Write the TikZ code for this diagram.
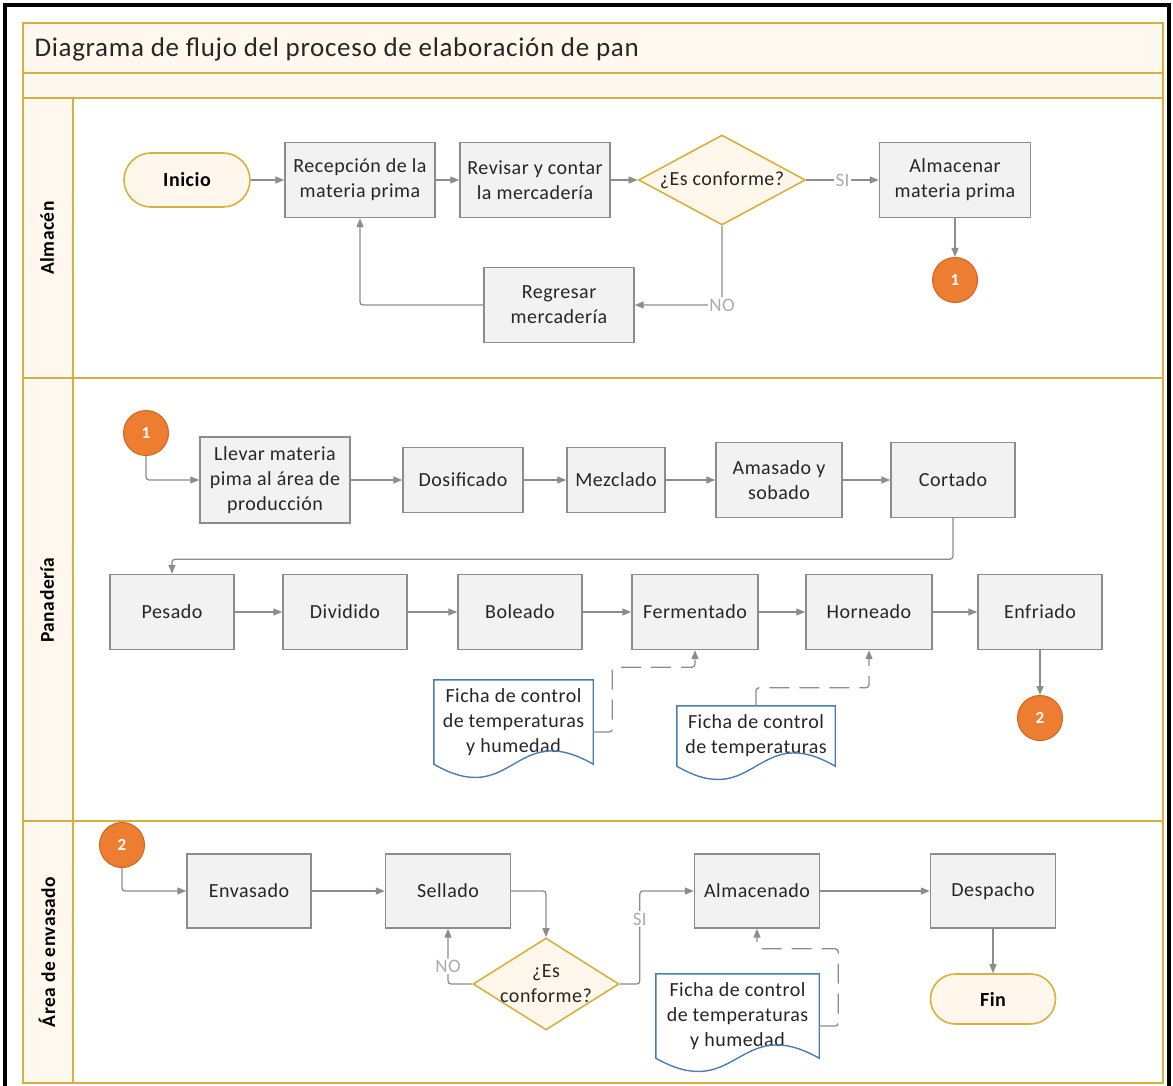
\documentclass[tikz,border=0pt]{standalone}
\usepackage{fontspec}
\setmainfont{Carlito}[LetterSpace=2.5]
\usetikzlibrary{shapes.geometric,arrows.meta,calc}

\definecolor{laneline}{HTML}{D4B13F}
\definecolor{bandfill}{HTML}{FFF8EE}
\definecolor{boxfill}{HTML}{F2F2F2}
\definecolor{boxline}{HTML}{8C8C8C}
\definecolor{flow}{HTML}{8C8C8C}
\definecolor{orangec}{HTML}{ED7D31}
\definecolor{orangeline}{HTML}{D0651C}
\definecolor{docline}{HTML}{4A7EB0}
\definecolor{termline}{HTML}{D6B23C}
\definecolor{termfill}{HTML}{FFF7EC}
\definecolor{lbl}{HTML}{ABABAB}
\definecolor{txt}{HTML}{262626}

\newcommand\bxfont{\fontsize{20}{25}\selectfont}
\newcommand\ttlfont{\fontsize{27}{30}\selectfont}
\newcommand\lanefont{\fontsize{19.5}{22}\selectfont\bfseries}

% document symbol: straight top and sides, wavy bottom edge
\newcommand\docpath[1]{%
  \draw[draw=docline, line width=1.4pt]
    (#1.north west) -- (#1.south west)
    .. controls ($(#1.south west)!0.5!(#1.south east)+(0,46)$)
           and ($(#1.south west)!0.5!(#1.south east)+(0,-46)$) .. (#1.south east)
    -- (#1.north east) -- cycle;}

\tikzset{
  lanebox/.style={draw=laneline, line width=1.8pt},
  lanelabel/.style={rotate=90, font=\lanefont, text=black},
  proc/.style={draw=boxline, fill=boxfill, line width=1.4pt, align=center,
    font=\bxfont, text=txt, inner sep=1pt},
  term/.style={draw=termline, fill=termfill, line width=1.6pt,
    font=\bxfont\bfseries, text=black, minimum width=126, minimum height=52,
    rounded corners=26pt},
  decision/.style={diamond, draw=termline, fill=termfill, line width=1.6pt,
    align=center, font=\bxfont, text=txt, inner sep=-8pt},
  conn/.style={circle, fill=orangec, draw=orangeline, line width=1pt,
    minimum size=45, inner sep=0pt, text=white,
    font=\fontsize{17}{17}\selectfont\bfseries},
  docnode/.style={align=center, font=\bxfont, text=txt, inner sep=0pt},
  flowline/.style={draw=flow, line width=1.3pt, rounded corners=3pt,
    -{Triangle[length=9pt,width=7pt]}},
  dashflow/.style={flowline, dash pattern=on 20pt off 10pt},
  branch/.style={fill=white, text=lbl, font=\fontsize{19}{19}\selectfont,
    inner sep=1.5pt},
}

\begin{document}
\begin{tikzpicture}[x=1pt, y=-1pt]
\useasboundingbox (0,0) rectangle (1173,1086);

% outer black frame
\draw[line width=3.5pt] (5,5) rectangle (1169,1100);

% pool: title band, empty band, lane label column
\fill[white] (23,23) rectangle (1163,1083);
\fill[bandfill] (23,23) rectangle (1163,98);
\fill[bandfill] (23,98) rectangle (73,1083);
\draw[lanebox] (23,23) rectangle (1163,1083);
\draw[lanebox] (23,73) -- (1163,73);
\draw[lanebox] (23,98) -- (1163,98);
\draw[lanebox] (23,378) -- (1163,378);
\draw[lanebox] (23,821) -- (1163,821);
\draw[lanebox] (73,98) -- (73,1083);

\node[anchor=west, font=\ttlfont, text=txt] (title) at (31,49)
  {Diagrama de flujo del proceso de elaboración de pan};

\node[lanelabel] (laneA) at (47,238) {Almacén};
\node[lanelabel] (laneP) at (47,600) {Panadería};
\node[lanelabel] (laneE) at (47,952) {Área de envasado};

% ---- Almacén ----
\node[term, minimum width=126, minimum height=54, rounded corners=27pt]
  (inicio) at (187,180) {Inicio};
\node[proc, minimum width=150, minimum height=75] (recep) at (360,180)
  {Recepción de la\\materia prima};
\node[proc, minimum width=150, minimum height=75] (revis) at (535,180)
  {Revisar y contar\\la mercadería};
\node[decision, minimum width=167, minimum height=90, aspect=1.86]
  (dec1) at (722,180) {¿Es conforme?};
\node[proc, minimum width=151, minimum height=75] (almac) at (955,180)
  {Almacenar\\materia prima};
\node[conn] (c1a) at (955,280) {1};
\node[proc, minimum width=150, minimum height=75] (regres) at (559,305)
  {Regresar\\mercadería};

\draw[flowline] (inicio) -- (recep);
\draw[flowline] (recep) -- (revis);
\draw[flowline] (revis) -- (dec1);
\draw[flowline] (dec1.east) -- node[branch] {SI} (almac.west);
\draw[flowline] (almac) -- (c1a);
\draw[flowline] (dec1.south) |- node[branch, pos=0.5] {NO} (regres.east);
\draw[flowline] (regres.west) -| (recep.south);

% ---- Panadería ----
\node[conn] (c1b) at (146,433) {1};
\node[proc, minimum width=150, minimum height=86] (llevar) at (275,480)
  {Llevar materia\\pima al área de\\producción};
\node[proc, minimum width=120, minimum height=65] (dosif) at (463,480) {Dosificado};
\node[proc, minimum width=98, minimum height=65] (mezcl) at (616,480) {Mezclado};
\node[proc, minimum width=126, minimum height=75] (amas) at (779,480)
  {Amasado y\\sobado};
\node[proc, minimum width=124, minimum height=75] (cort) at (953,480) {Cortado};

\node[proc, minimum width=124, minimum height=75] (pesado) at (172,612) {Pesado};
\node[proc, minimum width=124, minimum height=75] (divid) at (345,612) {Dividido};
\node[proc, minimum width=124, minimum height=75] (bolea) at (520,612) {Boleado};
\node[proc, minimum width=126, minimum height=75] (ferm) at (695,612) {Fermentado};
\node[proc, minimum width=126, minimum height=75] (horn) at (869,612) {Horneado};
\node[proc, minimum width=124, minimum height=75] (enfr) at (1040,612) {Enfriado};
\node[conn] (c2a) at (1040,718) {2};

\node[docnode, minimum width=159, minimum height=84] (doc1) at (513.5,722)
  {Ficha de control\\de temperaturas\\y humedad};
\docpath{doc1}
\node[docnode, minimum width=158, minimum height=60] (doc2) at (756,736)
  {Ficha de control\\de temperaturas};
\docpath{doc2}

\draw[flowline] (c1b.south) |- (llevar.west);
\draw[flowline] (llevar) -- (dosif);
\draw[flowline] (dosif) -- (mezcl);
\draw[flowline] (mezcl) -- (amas);
\draw[flowline] (amas) -- (cort);
\draw[flowline] (cort.south) -- ++(0,41) -| (pesado.north);
\draw[flowline] (pesado) -- (divid);
\draw[flowline] (divid) -- (bolea);
\draw[flowline] (bolea) -- (ferm);
\draw[flowline] (ferm) -- (horn);
\draw[flowline] (horn) -- (enfr);
\draw[flowline] (enfr) -- (c2a);
\draw[dashflow] ($(doc1.east)+(0,10)$) -- ++(19,0) |- ($(ferm.south)+(0,17)$)
  -- (ferm.south);
\draw[dashflow] (doc2.north) -- ++(0,-18) -| (horn.south);

% ---- Área de envasado ----
\node[conn] (c2b) at (122,845) {2};
\node[proc, minimum width=124, minimum height=74] (env) at (249,891) {Envasado};
\node[proc, minimum width=125, minimum height=74] (sell) at (448,891) {Sellado};
\node[decision, minimum width=146, minimum height=92, aspect=1.59]
  (dec2) at (546,984) {¿Es\\conforme?};
\node[proc, minimum width=125, minimum height=74] (almcd) at (757,891) {Almacenado};
\node[proc, minimum width=125, minimum height=74] (desp) at (993,891) {Despacho};
\node[term, minimum width=125, minimum height=50, rounded corners=25pt]
  (fin) at (993,999) {Fin};
\node[docnode, minimum width=163, minimum height=84] (doc3) at (737.5,1016)
  {Ficha de control\\de temperaturas\\y humedad};
\docpath{doc3}

\draw[flowline] (c2b.south) |- (env.west);
\draw[flowline] (env) -- (sell);
\draw[flowline] (sell.east) -| (dec2.north);
\draw[flowline] (dec2.west) -| node[branch, pos=0.66] {NO} (sell.south);
\draw[flowline] (dec2.east) -- ++(20,0) |- node[branch, pos=0.35] {SI} (almcd.west);
\draw[flowline] (almcd) -- (desp);
\draw[flowline] (desp) -- (fin);
\draw[dashflow] ($(doc3.east)+(0,10)$) -- ++(19,0) |- ($(almcd.south)+(0,20)$)
  -- (almcd.south);

\end{tikzpicture}
\end{document}
